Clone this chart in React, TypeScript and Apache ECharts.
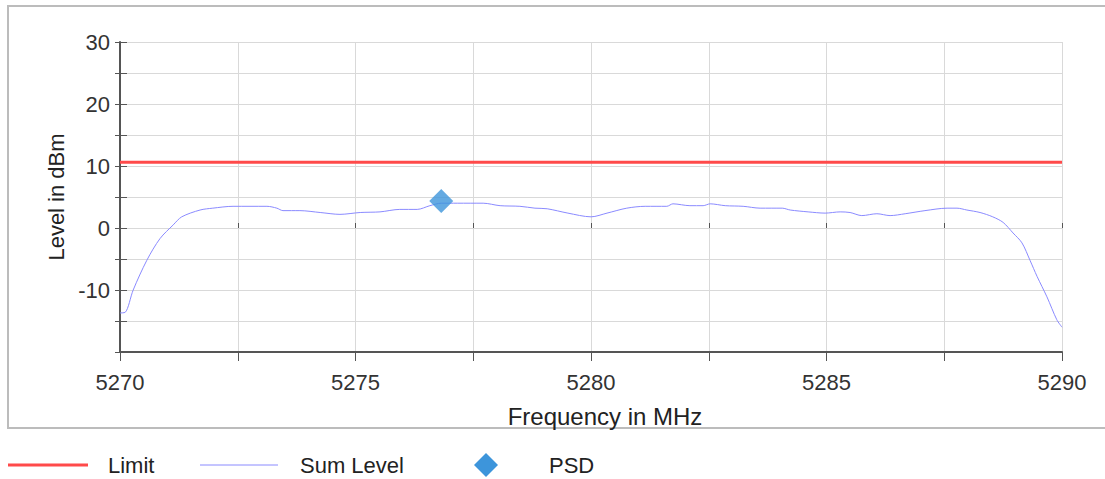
import React, { useEffect, useRef } from "react";
import * as echarts from "echarts";

const freq = [
  5270.0, 5270.11, 5270.28, 5270.57, 5270.85, 5271.13, 5271.31, 5271.7, 5271.97, 5272.4,
  5273.12, 5273.33, 5273.46, 5273.82, 5274.25, 5274.67, 5275.1, 5275.52, 5275.94, 5276.31,
  5276.58, 5276.82, 5277.16, 5277.71, 5278.07, 5278.49, 5278.81, 5279.07, 5279.51, 5280.0,
  5280.34, 5280.76, 5281.15, 5281.61, 5281.74, 5282.1, 5282.38, 5282.53, 5282.85, 5283.23,
  5283.59, 5284.06, 5284.23, 5284.61, 5284.97, 5285.29, 5285.5, 5285.75, 5286.07, 5286.35,
  5286.67, 5287.09, 5287.56, 5287.77, 5287.98, 5288.26, 5288.53, 5288.75, 5288.96, 5289.15,
  5289.32, 5289.47, 5289.68, 5289.89, 5290.0,
];
const sumLevel = [
  -13.7, -13.6, -10.0, -5.2, -1.7, 0.5, 1.8, 2.9, 3.2, 3.5,
  3.5, 3.2, 2.8, 2.8, 2.5, 2.2, 2.5, 2.6, 3.0, 3.0,
  3.6, 4.0, 4.0, 4.0, 3.6, 3.5, 3.2, 3.1, 2.4, 1.8,
  2.4, 3.2, 3.5, 3.5, 3.9, 3.6, 3.6, 3.9, 3.6, 3.5,
  3.2, 3.2, 2.9, 2.6, 2.4, 2.6, 2.5, 2.0, 2.3, 2.0,
  2.3, 2.8, 3.2, 3.2, 2.9, 2.5, 1.8, 0.9, -0.8, -2.4,
  -5.2, -7.8, -11.1, -14.8, -16.0,
];
const limitFreq = [5270, 5290];
const limitLevel = [10.6, 10.6];
const psdFreq = [5276.82];
const psdLevel = [4.35];
const legendNames = ["Limit", "Sum Level", "PSD"];

const xMin = 5270;
const xMax = 5290;
const xStep = 2.5;
const yMin = -20;
const yMax = 30;
const yStep = 5;

const FONT = "'Liberation Sans', Arial, sans-serif";
const RED = "#ff4a4a";
const BLUE = "#8a8aff";
const PSD_COLOR = "#3d95db";

export default function App() {
  const ref = useRef<HTMLDivElement>(null);
  useEffect(() => {
    if (!ref.current) return;
    const chart = echarts.init(ref.current, undefined, { renderer: "svg" });
    const axisCommon = {
      type: "value" as const,
      min: xMin,
      max: xMax,
      interval: xStep,
    };
    const ly = 465;
    const legendText = (x: number, t: string) => ({
      type: "text",
      x,
      y: ly,
      style: { text: t, fontSize: 22, fontFamily: FONT, fill: "#222", verticalAlign: "middle", align: "left" },
      silent: true,
    });
    chart.setOption({
      animation: false,
      backgroundColor: "#ffffff",
      textStyle: { fontFamily: FONT },
      grid: { left: 120, right: 43, top: 42, bottom: 127, containLabel: false },
      graphic: [
        {
          type: "rect",
          shape: { x: 8, y: 6, width: 1110, height: 422 },
          style: { fill: "none", stroke: "#bcbcbc", lineWidth: 2 },
          silent: true,
          z: -10,
        },
        {
          type: "line",
          shape: { x1: 8, y1: ly, x2: 88, y2: ly },
          style: { stroke: RED, lineWidth: 3 },
          silent: true,
        },
        legendText(108, legendNames[0]),
        {
          type: "line",
          shape: { x1: 200, y1: ly, x2: 278, y2: ly },
          style: { stroke: BLUE, lineWidth: 1 },
          silent: true,
        },
        legendText(300, legendNames[1]),
        {
          type: "polygon",
          shape: { points: [[486, ly - 12], [498, ly], [486, ly + 12], [474, ly]] },
          style: { fill: PSD_COLOR },
          silent: true,
        },
        legendText(549, legendNames[2]),
      ],
      xAxis: [
        {
          ...axisCommon,
          position: "bottom",
          name: "Frequency in MHz",
          nameLocation: "middle",
          nameGap: 52,
          nameTextStyle: { fontSize: 24, color: "#222", fontFamily: FONT, padding: [0, 0, 0, 28] },
          axisLine: { show: true, onZero: false, lineStyle: { color: "#555", width: 2 } },
          axisTick: { show: true, inside: false, length: 9, lineStyle: { color: "#555", width: 1 } },
          axisLabel: {
            margin: 19,
            fontSize: 22,
            color: "#333",
            fontFamily: FONT,
            formatter: (v: number) => (v % 5 === 0 ? String(v) : ""),
          },
          splitLine: { show: true, lineStyle: { color: "#d9d9d9", width: 1 } },
        },
        {
          ...axisCommon,
          position: "bottom",
          axisLine: { show: false },
          axisTick: { show: true, inside: true, length: 5, lineStyle: { color: "#555", width: 1 } },
          axisLabel: { show: false },
          splitLine: { show: false },
        },
      ],
      yAxis: [
        {
          type: "value",
          min: yMin,
          max: yMax,
          interval: yStep,
          position: "left",
          name: "Level in dBm",
          nameLocation: "middle",
          nameGap: 49,
          nameTextStyle: { fontSize: 22, color: "#222", fontFamily: FONT },
          axisLine: { show: true, onZero: false, lineStyle: { color: "#555", width: 2 } },
          axisTick: { show: true, inside: false, length: 5, lineStyle: { color: "#555", width: 1 } },
          axisLabel: {
            margin: 10,
            fontSize: 22,
            color: "#333",
            fontFamily: FONT,
            formatter: (v: number) => (v % 10 === 0 && v !== yMin ? String(v) : ""),
          },
          splitLine: { show: true, lineStyle: { color: "#d9d9d9", width: 1 } },
        },
        {
          type: "value",
          min: yMin,
          max: yMax,
          interval: yStep,
          position: "left",
          axisLine: { show: false },
          axisTick: { show: true, inside: true, length: 7, lineStyle: { color: "#555", width: 1 } },
          axisLabel: { show: false },
          splitLine: { show: false },
        },
      ],
      series: [
        {
          name: legendNames[0],
          type: "line",
          symbol: "none",
          data: limitFreq.map((f, i) => [f, limitLevel[i]]),
          lineStyle: { color: RED, width: 3 },
          itemStyle: { color: RED },
          z: 3,
        },
        {
          name: legendNames[1],
          type: "line",
          symbol: "none",
          smooth: 0.3,
          data: freq.map((f, i) => [f, sumLevel[i]]),
          lineStyle: { color: BLUE, width: 1 },
          itemStyle: { color: BLUE },
          z: 2,
        },
        {
          name: legendNames[2],
          type: "scatter",
          symbol: "diamond",
          symbolSize: 24,
          data: psdFreq.map((f, i) => [f, psdLevel[i]]),
          itemStyle: { color: PSD_COLOR },
          z: 4,
        },
      ],
    });
    return () => chart.dispose();
  }, []);
  return (
    <div style={{ position: "absolute", left: 0, top: 0, width: 1105, height: 479 }}>
      <div ref={ref} style={{ width: 1105, height: 479 }} />
    </div>
  );
}
